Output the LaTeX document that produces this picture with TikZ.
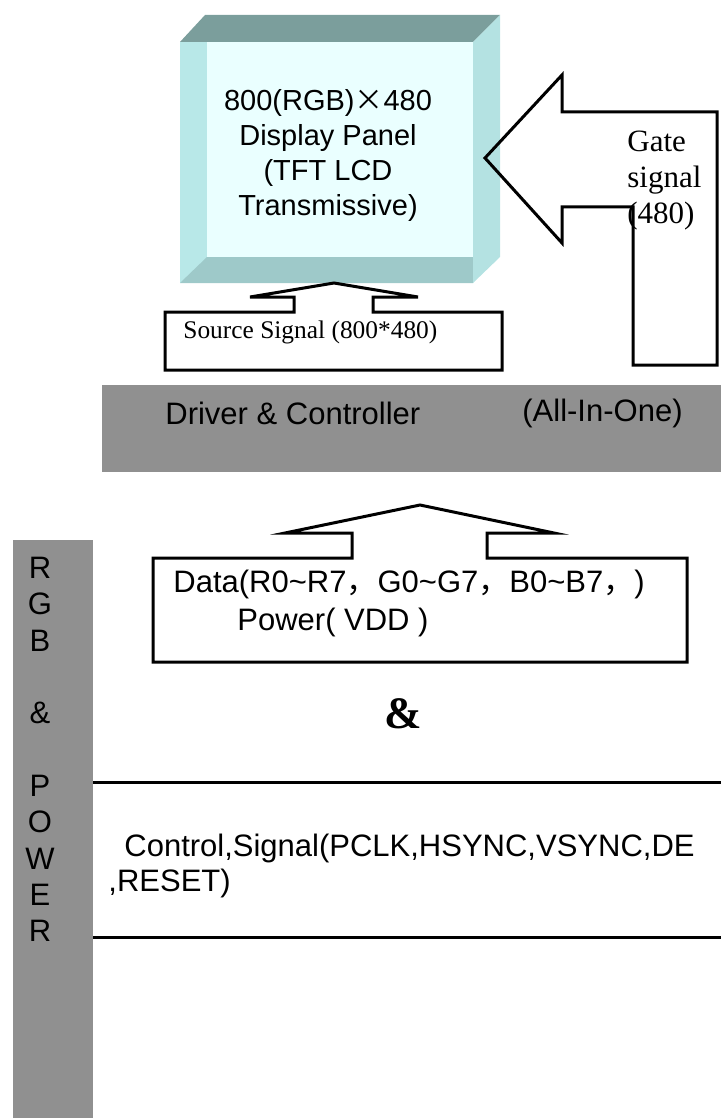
\documentclass[tikz,border=0pt]{standalone}
\usepackage{fontspec}
\setmainfont{Liberation Sans}
\newfontfamily\timesfont{Liberation Serif}
\newfontfamily\cjk{Noto Sans CJK SC}
\definecolor{lcdtop}{RGB}{123,158,156}
\definecolor{lcdside}{RGB}{180,226,226}
\definecolor{lcdleft}{RGB}{184,232,232}
\definecolor{lcdbottom}{RGB}{158,201,201}
\definecolor{lcdface}{RGB}{234,255,255}
\definecolor{bargray}{RGB}{144,144,144}

\begin{document}
\begin{tikzpicture}[
    x=0.5pt, y=-0.5pt,
    txt/.style={inner sep=0pt, font=\fontsize{15.5}{18}\selectfont},
    serif/.style={inner sep=0pt, font=\timesfont\fontsize{15.5}{18}\selectfont},
    blockarrow/.style={draw=black, line width=1.5pt, line join=miter},
    graybar/.style={fill=bargray}
  ]
    \useasboundingbox (0,0) rectangle (721,1118);

    \fill[lcdleft]   (180,42) rectangle (473,283);
    \fill[lcdbottom] (180,283) -- (207,257) -- (473,257) -- (473,283) -- cycle;
    \fill[lcdface]   (207,42) rectangle (473,257);
    \fill[lcdtop]    (180,42) -- (205,15) -- (500,15) -- (473,42) -- cycle;
    \fill[lcdside]   (473,42) -- (500,15) -- (500,257) -- (473,283) -- cycle;
    \node[txt, align=center, font=\fontsize{14.5}{17.5}\selectfont] (panel) at (328,155)
      {800(RGB){\cjk ×}480\\Display Panel\\(TFT LCD\\Transmissive)};

    \draw[blockarrow] (485,158) -- (562,75) -- (562,112) -- (717,112) -- (717,365)
      -- (633,365) -- (633,207) -- (562,207) -- (562,243) -- cycle;
    \node[serif, align=left, anchor=west] (gate) at (627,181) {Gate\\signal\\(480)};

    \draw[blockarrow] (165,312) -- (294,312) -- (294,297) -- (250,297) -- (334,283)
      -- (418,297) -- (373,297) -- (373,312) -- (502,312) -- (502,370) -- (165,370) -- cycle;
    \node[serif, anchor=west, font=\timesfont\fontsize{12.7}{15}\selectfont] (source) at (183,332)
      {Source Signal (800*480)};

    \fill[graybar] (102,385) rectangle (721,472);
    \node[txt, anchor=west] (driver) at (165,413) {Driver \& Controller};
    \node[txt, anchor=west] (allinone) at (522,413) {(All-In-One)};

    \draw[blockarrow] (153,558) -- (352,558) -- (352,533) -- (285,533) -- (420,505)
      -- (554,533) -- (487,533) -- (487,558) -- (687,558) -- (687,662) -- (153,662) -- cycle;
    \node[txt, anchor=west] (data) at (173,584)
      {Data(R0\textasciitilde R7{\cjk ，}G0\textasciitilde G7{\cjk ，}B0\textasciitilde B7{\cjk ，})};
    \node[txt, anchor=west] (power) at (237,622) {Power( VDD )};

    \node[inner sep=0pt, font=\timesfont\bfseries\fontsize{22.5}{27}\selectfont] (amp) at (403,714) {\&};

    \fill[graybar] (13,540) rectangle (93,1118);
    \node[txt, align=center, font=\fontsize{15.5}{18.15}\selectfont] (rgbpower) at (40,749.5)
      {R\\G\\B\\[18.15pt]\&\\[18.15pt]P\\O\\W\\E\\R};

    \draw[line width=1.5pt] (93,782) coordinate (ctltop) -- (721,782);
    \draw[line width=1.5pt] (93,937) coordinate (ctlbot) -- (721,937);
    \node[txt, anchor=west] (control) at (124,848) {Control,Signal(PCLK,HSYNC,VSYNC,DE};
    \node[txt, anchor=west] (reset) at (108,883) {,RESET)};
\end{tikzpicture}
\end{document}
